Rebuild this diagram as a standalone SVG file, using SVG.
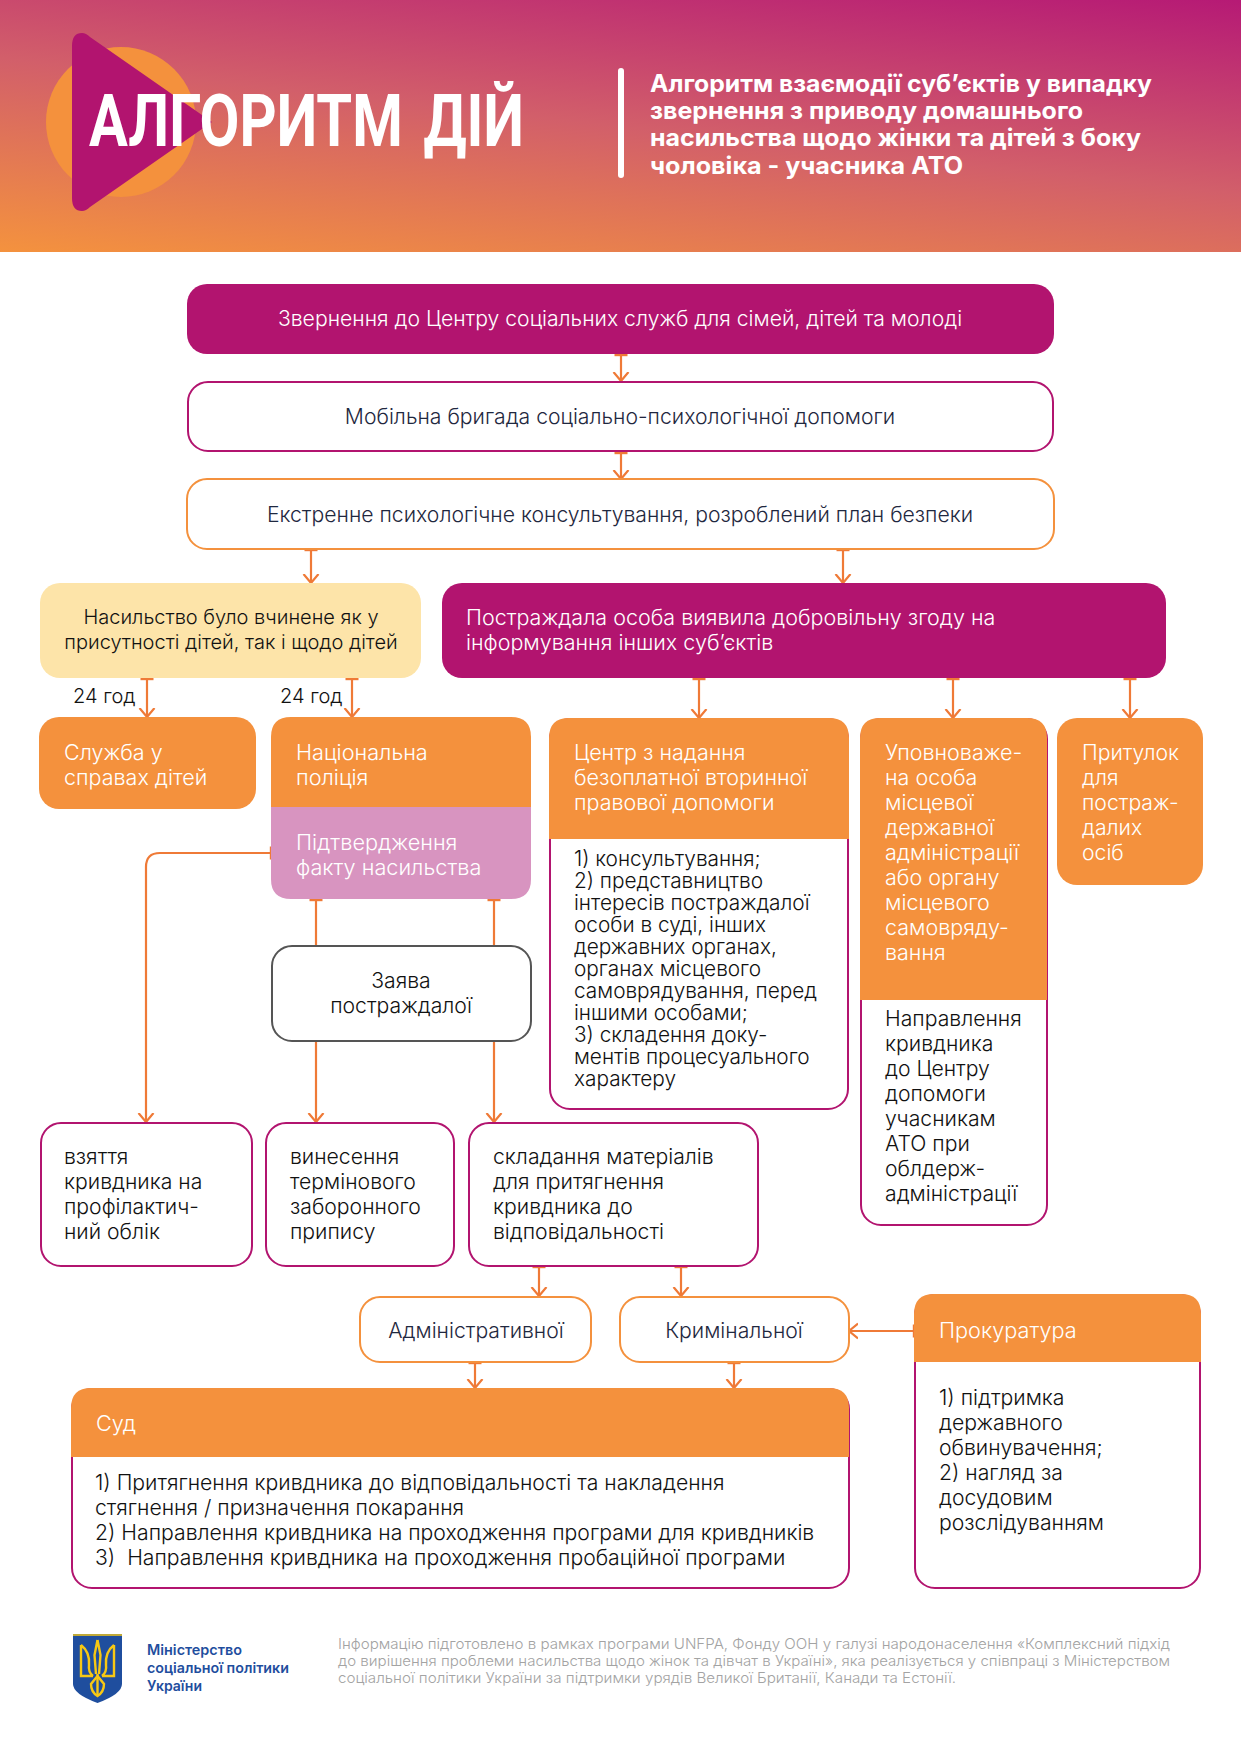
<svg xmlns="http://www.w3.org/2000/svg" width="1241" height="1754" viewBox="0 0 1241 1754">
<style>
text{font-family:Inter,"Noto Sans","DejaVu Sans",sans-serif;font-size:21.2px;font-weight:300;fill:#111}
.w{fill:#fff}.d{fill:#1f2840}.y{font-size:20px}.z{font-size:20.8px}.u{font-size:21.7px}.v{font-size:21.5px}.p{white-space:pre}
.mag{fill:#b2146f}.org{fill:#f4913d}.pink{fill:#d894c0}.yel{fill:#fde4a9}
.om{fill:#fff;stroke:#b2146f;stroke-width:2}.oo{fill:#fff;stroke:#f4913d;stroke-width:2}.og{fill:#fff;stroke:#555;stroke-width:2}
.c{fill:none;stroke:#ef7a37;stroke-width:2.2;marker-end:url(#h);marker-start:url(#t)}
.l{marker-end:none}.n{marker-start:none}
.f{font-size:14.5px;fill:#a3a3a3}.m{font-size:14.5px;font-weight:600;fill:#1f4e9e}
.s{font-size:24px;font-weight:700;fill:#fff}
.b{font-family:Roboto,"Liberation Sans",sans-serif;font-size:73px;font-weight:700;fill:#fff;word-spacing:8px}
</style>
<defs>
<linearGradient id="g" gradientUnits="userSpaceOnUse" x1="0" y1="252" x2="42" y2="-131">
<stop offset="0" stop-color="#f4923e"/><stop offset=".5" stop-color="#d25f6a"/><stop offset="1" stop-color="#b61a75"/>
</linearGradient>
<marker id="h" markerUnits="userSpaceOnUse" viewBox="-9 -9 18 18" markerWidth="18" markerHeight="18" orient="auto" refX="0" refY="0"><path d="M-9-7.5 0 0-9 7.500" fill="none" stroke="#ef7a37" stroke-width="2.2"/></marker>
<marker id="t" markerUnits="userSpaceOnUse" viewBox="-8 -8 16 16" markerWidth="16" markerHeight="16" orient="auto" refX="0" refY="0"><path d="M0-6.5V6.5" fill="none" stroke="#ef7a37" stroke-width="2.4"/></marker>
</defs>
<rect width="1241" height="1754" fill="#fff"/>
<g id="header">
<rect width="1241" height="252" fill="url(#g)"/>
<circle cx="121" cy="122" r="75" fill="#f4913d"/>
<path d="M72 46Q72 33 82 33 86 33 90 37L212 122 90 207Q86 211 82 211 72 211 72 198Z" fill="#b2146f"/>
<text class="b" x="89" y="146" textLength="435" lengthAdjust="spacingAndGlyphs">АЛГОРИТМ ДІЙ</text>
<rect x="618" y="68" width="6" height="110" rx="3" fill="#fff"/>
<text class="s" x="650" y="92" textLength="502" lengthAdjust="spacingAndGlyphs">Алгоритм взаємодії суб’єктів у випадку</text>
<text class="s" x="650" y="119" textLength="433" lengthAdjust="spacingAndGlyphs">звернення з приводу домашнього</text>
<text class="s" x="650" y="146" textLength="491" lengthAdjust="spacingAndGlyphs">насильства щодо жінки та дітей з боку</text>
<text class="s" x="650" y="174" textLength="313" lengthAdjust="spacingAndGlyphs">чоловіка - учасника АТО</text>
</g>
<g id="connectors">
<path class="c" d="M621 355V381"/><path class="c" d="M621 453V479"/>
<path class="c" d="M311 550V583"/><path class="c" d="M843 550V583"/>
<path class="c" d="M147 679V717"/><path class="c" d="M352 679V717"/>
<path class="c" d="M699 679V718"/><path class="c" d="M953 679V718"/><path class="c" d="M1130 679V718"/>
<path class="c" d="M271 853H160Q146 853 146 867V1122"/>
<path class="c l" d="M316 900V946"/><path class="c l" d="M494 900V946"/>
<path class="c n" d="M316 1041V1122"/><path class="c n" d="M494 1041V1122"/>
<path class="c" d="M539 1267V1296"/><path class="c" d="M681 1267V1296"/>
<path class="c" d="M475 1363V1388"/><path class="c" d="M734 1363V1388"/>
<path class="c" d="M914 1331H849"/>
</g>
<g id="n1"><rect class="mag" x="187" y="284" width="867" height="70" rx="20"/><text class="w" x="620" y="325.500" text-anchor="middle">Звернення до Центру соціальних служб для сімей, дітей та молоді</text></g>
<g id="n2"><rect class="om" x="188" y="382" width="865" height="69" rx="20"/><text class="d" x="620" y="423.500" text-anchor="middle">Мобільна бригада соціально-психологічної допомоги</text></g>
<g id="n3"><rect class="oo" x="187" y="479" width="867" height="70" rx="20"/><text class="d" x="620" y="521.500" text-anchor="middle">Екстренне психологічне консультування, розроблений план безпеки</text></g>
<g id="n4"><rect class="yel" x="40" y="583" width="381" height="95" rx="20"/>
<text class="y" x="231" y="624" text-anchor="middle">Насильство було вчинене як у</text>
<text class="y" x="231" y="649" text-anchor="middle">присутності дітей, так і щодо дітей</text></g>
<g id="n5"><rect class="mag" x="442" y="583" width="724" height="95" rx="20"/>
<text class="w v" x="466" y="624.500">Постраждала особа виявила добровільну згоду на</text>
<text class="w v" x="466" y="649.500">інформування інших суб’єктів</text></g>
<text class="y" x="73" y="703">24 год</text><text class="y" x="280" y="703">24 год</text>
<g id="n6"><rect class="org" x="39" y="717" width="217" height="92" rx="20"/>
<text class="w v" x="64" y="760">Служба у</text><text class="w v" x="64" y="785">справах дітей</text></g>
<g id="n7"><path class="org" d="M271 807V737Q271 717 291 717H511Q531 717 531 737V807Z"/><path class="pink" d="M271 807V879Q271 899 291 899H511Q531 899 531 879V807Z"/>
<text class="w u" x="296" y="760">Національна</text><text class="w u" x="296" y="785">поліція</text>
<text class="w u" x="296" y="850">Підтвердження</text><text class="w u" x="296" y="875">факту насильства</text></g>
<g id="n8"><rect class="og" x="272" y="946" width="259" height="95" rx="20"/>
<text x="401" y="988" text-anchor="middle">Заява</text><text x="401" y="1013" text-anchor="middle">постраждалої</text></g>
<g id="n9"><rect class="om" x="550" y="719" width="298" height="390" rx="20"/><path class="org" d="M549 839V738Q549 718 569 718H829Q849 718 849 738V839Z"/>
<text class="w v" x="574" y="760">Центр з надання</text><text class="w v" x="574" y="785">безоплатної вторинної</text><text class="w v" x="574" y="810">правової допомоги</text>
<g><text class="z" x="574" y="866">1) консультування;</text><text class="z" x="574" y="888">2) представництво</text><text class="z" x="574" y="910">інтересів постраждалої</text><text class="z" x="574" y="932">особи в суді, інших</text><text class="z" x="574" y="954">державних органах,</text><text class="z" x="574" y="976">органах місцевого</text><text class="z" x="574" y="998">самоврядування, перед</text><text class="z" x="574" y="1020">іншими особами;</text><text class="z" x="574" y="1042">3) складення доку-</text><text class="z" x="574" y="1064">ментів процесуального</text><text class="z" x="574" y="1086">характеру</text></g></g>
<g id="n10"><rect class="om" x="861" y="719" width="186" height="506" rx="20"/><path class="org" d="M860 1000V738Q860 718 880 718H1027Q1047 718 1047 738V1000Z"/>
<text class="w v" x="885" y="760">Уповноваже-</text><text class="w v" x="885" y="785">на особа</text><text class="w v" x="885" y="810">місцевої</text><text class="w v" x="885" y="835">державної</text><text class="w v" x="885" y="860">адміністрації</text><text class="w v" x="885" y="885">або органу</text><text class="w v" x="885" y="910">місцевого</text><text class="w v" x="885" y="935">самовряду-</text><text class="w v" x="885" y="960">вання</text>
<text x="885" y="1026">Направлення</text><text x="885" y="1051">кривдника</text><text x="885" y="1076">до Центру</text><text x="885" y="1101">допомоги</text><text x="885" y="1126">учасникам</text><text x="885" y="1151">АТО при</text><text x="885" y="1176">облдерж-</text><text x="885" y="1201">адміністрації</text></g>
<g id="n11"><rect class="org" x="1057" y="718" width="146" height="167" rx="20"/>
<text class="w" x="1082" y="760">Притулок</text><text class="w" x="1082" y="785">для</text><text class="w" x="1082" y="810">постраж-</text><text class="w" x="1082" y="835">далих</text><text class="w" x="1082" y="860">осіб</text></g>
<g id="n12"><rect class="om" x="41" y="1123" width="211" height="143" rx="20"/>
<text x="64" y="1164">взяття</text><text x="64" y="1189">кривдника на</text><text x="64" y="1214">профілактич-</text><text x="64" y="1239">ний облік</text></g>
<g id="n13"><rect class="om" x="266" y="1123" width="188" height="143" rx="20"/>
<text x="290" y="1164">винесення</text><text x="290" y="1189">термінового</text><text x="290" y="1214">заборонного</text><text x="290" y="1239">припису</text></g>
<g id="n14"><rect class="om" x="469" y="1123" width="289" height="143" rx="20"/>
<text x="493" y="1164">складання матеріалів</text><text x="493" y="1189">для притягнення</text><text x="493" y="1214">кривдника до</text><text x="493" y="1239">відповідальності</text></g>
<g id="n15"><rect class="oo" x="360" y="1297" width="231" height="65" rx="20"/><text class="d" x="476" y="1338" text-anchor="middle">Адміністративної</text></g>
<g id="n16"><rect class="oo" x="620" y="1297" width="229" height="65" rx="20"/><text class="d" x="734" y="1338" text-anchor="middle">Кримінальної</text></g>
<g id="n17"><rect class="om" x="72" y="1389" width="777" height="199" rx="20"/><path class="org" d="M71 1457V1408Q71 1388 91 1388H829Q849 1388 849 1408V1457Z"/>
<text class="w u" x="96" y="1431">Суд</text>
<text x="95" y="1490">1) Притягнення кривдника до відповідальності та накладення</text><text x="95" y="1515">стягнення / призначення покарання</text><text x="95" y="1540">2) Направлення кривдника на проходження програми для кривдників</text><text class="p" x="95" y="1565">3)  Направлення кривдника на проходження пробаційної програми</text></g>
<g id="n18"><rect class="om" x="915" y="1295" width="285" height="293" rx="20"/><path class="org" d="M914 1362V1314Q914 1294 934 1294H1181Q1201 1294 1201 1314V1362Z"/>
<text class="w u" x="939" y="1338">Прокуратура</text>
<text x="939" y="1405">1) підтримка</text><text x="939" y="1430">державного</text><text x="939" y="1455">обвинувачення;</text><text x="939" y="1480">2) нагляд за</text><text x="939" y="1505">досудовим</text><text x="939" y="1530">розслідуванням</text></g>
<g id="footer">
<path d="M73 1634H122V1684Q122 1694 97.500 1703 73 1694 73 1684Z" fill="#1f4e9e"/><path d="M73 1635H122" stroke="#f7c814" stroke-width="1.500"/>
<g fill="none" stroke="#f7c814" stroke-width="2.400">
<path d="M81 1645V1676H93M81 1645Q90 1652 89 1665 88 1672 93 1676"/>
<path d="M114 1645V1676H102M114 1645Q105 1652 106 1665 107 1672 102 1676"/>
<path d="M97.500 1640 94.500 1655 96 1674M97.500 1640 100.500 1655 99 1674"/>
<path d="M97.500 1676 91 1684Q91 1692 97.500 1696 104 1692 104 1684Z"/><path d="M97.500 1674V1696"/>
</g>
<text class="m" x="147" y="1655" textLength="95" lengthAdjust="spacingAndGlyphs">Міністерство</text><text class="m" x="147" y="1673" textLength="142" lengthAdjust="spacingAndGlyphs">соціальної політики</text><text class="m" x="147" y="1691" textLength="55" lengthAdjust="spacingAndGlyphs">України</text>
<text class="f" x="338" y="1649" textLength="832" lengthAdjust="spacingAndGlyphs">Інформацію підготовлено в рамках програми UNFPA, Фонду ООН у галузі народонаселення «Комплексний підхід</text>
<text class="f" x="338" y="1666" textLength="832" lengthAdjust="spacingAndGlyphs">до вирішення проблеми насильства щодо жінок та дівчат в Україні», яка реалізується у співпраці з Міністерством</text>
<text class="f" x="338" y="1683" textLength="618" lengthAdjust="spacingAndGlyphs">соціальної політики України за підтримки урядів Великої Британії, Канади та Естонії.</text>
</g>
</svg>
